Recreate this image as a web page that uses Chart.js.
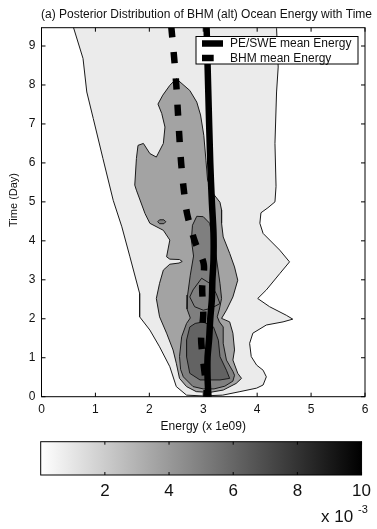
<!DOCTYPE html>
<html lang="en">
<head>
<meta charset="UTF-8">
<title>Posterior Distribution of BHM (alt) Ocean Energy with Time</title>
<style>
    html, body { margin: 0; padding: 0; background: #fff; }
    #top { position: absolute; left: 0; top: 0; width: 377px; height: 436px; }
    #bottom { position: absolute; left: 0; top: 436px; width: 377px; height: 93px; }
</style>
</head>
<body>
<div id="top"><canvas id="main"></canvas></div>
<div id="bottom"><canvas id="cbar"></canvas></div>

<script src="https://cdn.jsdelivr.net/npm/chart.js@4.4.0/dist/chart.umd.min.js"></script>
<script>
// axis ticks
const energyTicks = [0, 1, 2, 3, 4, 5, 6];
const timeTicks = [0, 1, 2, 3, 4, 5, 6, 7, 8, 9];
const densityTicks = [2, 4, 6, 8, 10];

// mean energy curves (energy x1e09 vs day)
const peE = [3.06, 3.09, 3.13, 3.16, 3.19, 3.19, 3.17, 3.16, 3.13, 3.11, 3.08, 3.08, 3.10];
const peT = [9.6, 8, 6, 5, 4.2, 3.5, 3, 2.5, 2, 1.5, 1, 0.5, -0.1];
const bhmE = [2.40, 2.46, 2.50, 2.53, 2.56, 2.59, 2.64, 2.70, 2.84, 3.01, 2.98, 3.00, 2.96, 3.00, 3.06, 3.07];
const bhmT = [9.6, 8.7, 8.0, 7.3, 6.6, 6.0, 5.3, 4.7, 4.0, 3.4, 2.8, 2.1, 1.5, 0.9, 0.2, -0.1];

// posterior density contours (closed outlines)
const outerE = [0.55, 0.59, 0.77, 0.84, 0.96, 1.14, 1.33, 1.49, 1.64, 1.82, 1.82, 2.01, 2.19, 2.38, 2.50, 2.69, 2.99, 3.36, 3.68, 3.99, 4.11, 4.17, 4.11, 3.99, 3.89, 3.86, 3.92, 4.17, 4.48, 4.66, 4.54, 4.23, 4.01, 4.17, 4.42, 4.60, 4.42, 4.11, 4.05, 4.07, 4.20, 4.33, 4.35, 4.33, 4.36, 4.39, 4.36, 4.36, 0.55];
const outerT = [9.6, 9.49, 8.68, 7.82, 7.14, 6.11, 5.04, 4.36, 3.59, 2.65, 2.05, 1.71, 1.28, 0.77, 0.26, 0.04, 0.02, 0.04, 0.13, 0.22, 0.30, 0.51, 0.68, 0.81, 1.03, 1.37, 1.63, 1.84, 1.92, 1.99, 2.09, 2.31, 2.52, 2.74, 3.16, 3.46, 3.76, 4.19, 4.45, 4.72, 4.85, 5.0, 5.4, 6.5, 7.82, 8.46, 9.45, 9.6, 9.6];

const midE = [2.50, 2.75, 2.88, 2.95, 3.01, 3.05, 3.08, 3.18, 3.31, 3.34, 3.34, 3.37, 3.49, 3.58, 3.64, 3.55, 3.43, 3.34, 3.49, 3.55, 3.58, 3.55, 3.64, 3.71, 3.61, 3.37, 3.12, 2.87, 2.69, 2.56, 2.50, 2.44, 2.32, 2.19, 2.13, 2.19, 2.26, 2.38, 2.55, 2.61, 2.56, 2.38, 2.32, 2.38, 2.26, 2.01, 1.92, 1.76, 1.73, 1.76, 1.79, 1.89, 2.01, 2.13, 2.26, 2.29, 2.23, 2.16, 2.25, 2.38, 2.50];
const midT = [8.16, 7.86, 7.56, 7.23, 6.71, 6.07, 5.56, 5.22, 4.99, 4.79, 4.45, 4.10, 3.68, 3.33, 2.99, 2.56, 2.22, 2.01, 1.92, 1.63, 1.20, 0.94, 0.60, 0.47, 0.34, 0.17, 0.11, 0.13, 0.26, 0.47, 0.86, 1.20, 1.63, 2.05, 2.52, 2.91, 3.25, 3.40, 3.43, 3.47, 3.52, 3.53, 3.59, 4.02, 4.27, 4.45, 4.70, 5.30, 5.43, 6.11, 6.45, 6.50, 6.24, 6.15, 6.50, 6.92, 7.27, 7.51, 7.74, 7.99, 8.16];

const darkE = [2.88, 2.80, 2.78, 2.82, 2.76, 2.71, 2.70, 2.76, 2.69, 2.60, 2.56, 2.58, 2.63, 2.81, 3.00, 3.20, 3.40, 3.55, 3.58, 3.55, 3.43, 3.37, 3.37, 3.30, 3.26, 3.30, 3.34, 3.31, 3.24, 3.18, 3.12, 3.00, 2.88];
const darkT = [4.63, 4.40, 4.02, 3.61, 3.12, 2.61, 2.25, 2.02, 1.88, 1.54, 1.03, 0.70, 0.51, 0.26, 0.20, 0.20, 0.27, 0.40, 0.55, 0.65, 0.94, 1.37, 1.79, 1.92, 2.05, 2.25, 2.52, 2.91, 3.59, 4.02, 4.45, 4.62, 4.63];

const darkestE = [2.75, 2.69, 2.69, 2.75, 2.94, 3.31, 3.49, 3.43, 3.31, 3.28, 3.19, 3.00, 2.85, 2.75];
const darkestT = [1.79, 1.45, 1.03, 0.60, 0.43, 0.43, 0.47, 0.68, 1.03, 1.45, 1.79, 1.92, 1.88, 1.79];

const loopE = [2.97, 2.81, 2.75, 2.84, 3.00, 3.15, 3.31, 3.24, 3.12, 2.97];
const loopT = [3.04, 2.74, 2.56, 2.31, 2.22, 2.27, 2.39, 2.65, 2.91, 3.04];

const islandE = [2.155, 2.19, 2.27, 2.305, 2.27, 2.19, 2.155];
const islandT = [4.49, 4.54, 4.54, 4.49, 4.44, 4.44, 4.49];

const FONT = '"Liberation Sans", Arial, Helvetica, sans-serif';
Chart.defaults.font.family = FONT;
Chart.defaults.color = '#111';

const pts = (xs, ys) => xs.map((x, i) => ({x: x, y: ys[i]}));

function contour(label, xs, ys, fill) {
    return {
        label: label,
        data: pts(xs, ys),
        showLine: true,
        areaColor: fill,
        borderColor: '#1a1a1a',
        borderWidth: 1,
        pointRadius: 0,
        tension: 0
    };
}

// fill each closed contour from the points the chart placed
const contourFill = {
    id: 'contourFill',
    beforeDatasetDraw(chart, args) {
        const ds = chart.data.datasets[args.index];
        if (!ds.areaColor) return;
        const ctx = chart.ctx, a = chart.chartArea;
        ctx.save();
        ctx.beginPath();
        ctx.rect(a.left, a.top, a.width, a.height);
        ctx.clip();
        ctx.beginPath();
        args.meta.data.forEach((p, i) => i ? ctx.lineTo(p.x, p.y) : ctx.moveTo(p.x, p.y));
        ctx.closePath();
        ctx.fillStyle = ds.areaColor;
        ctx.fill();
        ctx.restore();
    }
};

// box round the plot with inward ticks on every side
const frame = {
    id: 'frame',
    afterDraw(chart) {
        const {ctx, chartArea: a, scales} = chart;
        const len = chart.options.plugins.frame.len;
        ctx.save();
        ctx.strokeStyle = '#000';
        ctx.lineWidth = 1;
        ctx.beginPath();
        ['x', 'y'].forEach(id => {
            const s = scales[id];
            if (!s || s.type !== 'linear') return;
            s.ticks.forEach(t => {
                const p = s.getPixelForValue(t.value);
                if (id === 'x') {
                    ctx.moveTo(p, a.bottom); ctx.lineTo(p, a.bottom - len);
                    ctx.moveTo(p, a.top); ctx.lineTo(p, a.top + len);
                } else {
                    ctx.moveTo(a.left, p); ctx.lineTo(a.left + len, p);
                    ctx.moveTo(a.right, p); ctx.lineTo(a.right - len, p);
                }
            });
        });
        ctx.stroke();
        ctx.strokeRect(a.left, a.top, a.width, a.height);
        ctx.restore();
    }
};

const legendBox = {
    id: 'legendBox',
    afterDatasetsDraw(chart) {
        const ctx = chart.ctx;
        ctx.save();
        ctx.fillStyle = '#fff';
        ctx.strokeStyle = '#000';
        ctx.lineWidth = 1;
        ctx.fillRect(196, 36.5, 162, 27.5);
        ctx.strokeRect(196, 36.5, 162, 27.5);
        [0, 1].forEach(i => {
            const ds = chart.data.datasets[i];
            const y = 43.5 + i * 14.5;
            ctx.beginPath();
            ctx.setLineDash(ds.borderDash || []);
            ctx.lineWidth = ds.borderWidth;
            ctx.strokeStyle = ds.borderColor;
            ctx.moveTo(202, y);
            ctx.lineTo(223, y);
            ctx.stroke();
            ctx.setLineDash([]);
            ctx.fillStyle = '#111';
            ctx.font = '12px ' + FONT;
            ctx.textBaseline = 'middle';
            ctx.fillText(ds.label, 230, y + 0.5);
        });
        ctx.restore();
    }
};

new Chart(document.getElementById('main'), {
    type: 'scatter',
    data: {
        datasets: [
            {
                label: 'PE/SWE mean Energy',
                data: pts(peE, peT),
                showLine: true,
                borderColor: '#000',
                borderWidth: 6.5,
                pointRadius: 0,
                tension: 0.3
            },
            {
                label: 'BHM mean Energy',
                data: pts(bhmE, bhmT),
                showLine: true,
                borderColor: '#000',
                borderWidth: 6.5,
                borderDash: [11.7, 14.6],
                borderDashOffset: 23.2,
                borderCapStyle: 'butt',
                pointRadius: 0,
                tension: 0.3
            },
            contour('density 4', darkestE, darkestT, '#636363'),
            contour('density 3b', loopE, loopT, '#7f7f7f'),
            contour('density 3', darkE, darkT, '#7f7f7f'),
            contour('density 2b', islandE, islandT, '#7f7f7f'),
            contour('density 2', midE, midT, '#a3a3a3'),
            contour('density 1', outerE, outerT, '#ebebeb')
        ]
    },
    options: {
        responsive: true,
        maintainAspectRatio: false,
        animation: false,
        events: [],
        layout: { padding: { left: 0, right: 5, top: 0, bottom: 0 } },
        plugins: {
            legend: { display: false },
            tooltip: { enabled: false },
            frame: { len: 4 },
            title: {
                display: true,
                text: '(a) Posterior Distribution of BHM (alt) Ocean Energy with Time',
                align: 'end',
                color: '#111',
                font: { size: 12, weight: 'normal' },
                padding: { top: 7, bottom: 6.3 }
            }
        },
        scales: {
            x: {
                type: 'linear',
                min: 0,
                max: 6,
                afterBuildTicks: s => { s.ticks = energyTicks.map(v => ({value: v})); },
                afterFit: s => { s.height = 39.3; },
                grid: { display: false, drawTicks: false },
                border: { display: false },
                ticks: { font: { size: 12 }, padding: 6, color: '#111' },
                title: { display: true, text: 'Energy (x 1e09)', font: { size: 12 }, padding: { top: 0, bottom: 2 }, color: '#111' }
            },
            y: {
                type: 'linear',
                min: 0,
                max: 9.47,
                afterBuildTicks: s => { s.ticks = timeTicks.map(v => ({value: v})); },
                afterFit: s => { s.width = 41.5; },
                grid: { display: false, drawTicks: false },
                border: { display: false },
                ticks: { font: { size: 12 }, padding: 6, color: '#111' },
                title: { display: true, text: '        Time (Day)', font: { size: 11 }, padding: { top: 7.4, bottom: 0 }, color: '#111' }
            },
            yr: {
                type: 'linear',
                position: 'right',
                display: true,
                min: 0,
                max: 9.47,
                afterFit: s => { s.width = 7; },
                grid: { display: false, drawTicks: false },
                border: { display: false },
                ticks: { display: false }
            }
        }
    },
    plugins: [contourFill, legendBox, frame]
});

// colour bar
const exponent = {
    id: 'exponent',
    afterDraw(chart) {
        const ctx = chart.ctx;
        ctx.save();
        ctx.fillStyle = '#111';
        ctx.textBaseline = 'alphabetic';
        ctx.font = '17px ' + FONT;
        ctx.fillText('x 10', 321, 86);
        ctx.font = '11px ' + FONT;
        ctx.fillText('-3', 358, 77);
        ctx.restore();
    }
};

new Chart(document.getElementById('cbar'), {
    type: 'bar',
    data: {
        labels: [''],
        datasets: [{
            data: [[0, 10]],
            borderWidth: 0,
            barPercentage: 1,
            categoryPercentage: 1,
            backgroundColor: ctx => {
                const a = ctx.chart.chartArea;
                if (!a) return '#888';
                const g = ctx.chart.ctx.createLinearGradient(a.left, 0, a.right, 0);
                g.addColorStop(0, '#ffffff');
                g.addColorStop(1, '#000000');
                return g;
            }
        }]
    },
    options: {
        indexAxis: 'y',
        responsive: true,
        maintainAspectRatio: false,
        animation: false,
        events: [],
        layout: { padding: { left: 40.7, right: 10.3, top: 5.7, bottom: 0 } },
        plugins: {
            legend: { display: false },
            tooltip: { enabled: false },
            frame: { len: 3 }
        },
        scales: {
            x: {
                type: 'linear',
                min: 0,
                max: 10,
                afterBuildTicks: s => { s.ticks = densityTicks.map(v => ({value: v})); },
                afterFit: s => { s.height = 54; },
                grid: { display: false, drawTicks: false },
                border: { display: false },
                ticks: { font: { size: 17 }, padding: 6, color: '#111' }
            },
            y: { display: false }
        }
    },
    plugins: [frame, exponent]
});
</script>
</body>
</html>
